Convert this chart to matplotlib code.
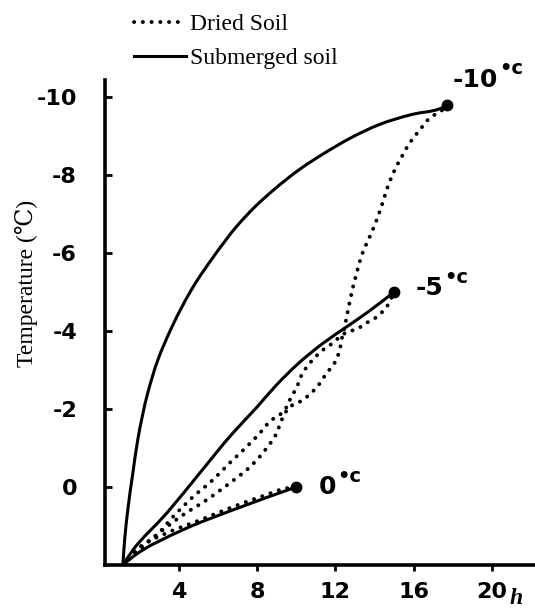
import matplotlib
matplotlib.use("Agg")
import numpy as np
import matplotlib.pyplot as plt
from matplotlib.lines import Line2D
from matplotlib.path import Path
from matplotlib.patches import PathPatch

# Hours after the start of cooling and soil temperature (deg C)
hours_sub_0 = [1.15, 1.66, 4.21, 6.76, 10.0]
temp_sub_0 = [2.0, 1.79, 1.10, 0.59, 0.0]

hours_dry_0 = [1.15, 2.01, 3.39, 5.08, 6.76, 8.14, 9.52, 10.0]
temp_dry_0 = [2.0, 1.54, 1.18, 0.85, 0.51, 0.26, 0.03, 0.0]

hours_sub_5 = [1.15, 1.66, 3.39, 5.08, 6.76, 8.0, 9.0, 10.18, 11.35, 12.7, 13.75, 15.0]
temp_sub_5 = [2.0, 1.62, 0.67, -0.36, -1.38, -2.05, -2.62, -3.2, -3.68, -4.15, -4.52, -5.0]

hours_dry_5 = [1.15, 1.86, 2.88, 3.70, 4.72, 5.74, 6.61, 7.47, 8.14, 8.75, 9.16,
               9.41, 9.67, 10.03, 10.33, 10.84, 11.35, 11.86, 12.22, 12.58, 13.09,
               13.6, 14.11, 14.62, 15.0]
temp_dry_5 = [2.0, 1.62, 1.23, 0.77, 0.26, -0.18, -0.62, -1.03, -1.38, -1.72, -1.85,
              -1.97, -2.23, -2.56, -2.92, -3.26, -3.51, -3.69, -3.85, -3.97, -4.05,
              -4.21, -4.36, -4.62, -5.0]

hours_sub_10 = [1.15, 1.25, 1.40, 1.66, 1.91, 2.42, 2.93, 3.65, 4.82, 5.84, 7.02,
                7.88, 8.8, 10.18, 11.56, 12.73, 14.26, 15.94, 17.32, 17.73]
temp_sub_10 = [2.0, 1.3, 0.59, -0.36, -1.21, -2.41, -3.25, -4.10, -5.2, -5.95, -6.72,
               -7.18, -7.6, -8.15, -8.6, -8.94, -9.3, -9.56, -9.7, -9.79]

hours_dry_10 = [1.15, 2.37, 4.21, 5.43, 6.61, 7.63, 8.29, 9.0, 9.26, 9.67, 10.33,
                11.05, 11.56, 11.96, 12.22, 12.32, 12.47, 12.58, 12.83, 13.09,
                13.39, 13.75, 14.11, 14.41, 14.67, 15.03, 15.38, 15.79, 16.30,
                16.81, 17.47, 17.73]
temp_dry_10 = [2.0, 1.44, 0.72, 0.33, -0.10, -0.51, -0.87, -1.38, -1.72, -2.05, -2.23,
               -2.56, -2.92, -3.18, -3.51, -3.77, -4.10, -4.36, -4.97, -5.49,
               -6.0, -6.41, -6.85, -7.28, -7.69, -8.13, -8.46, -8.82, -9.15,
               -9.46, -9.67, -9.79]

end_hours = [10.0, 15.0, 17.73]
end_temps = [0.0, -5.0, -9.79]
end_labels = ["0", "-5", "-10"]
label_pos_hours = [11.15, 16.1, 18.0]
label_pos_temps = [0.0, -5.1, -10.45]

x_ticks = [4, 8, 12, 16, 20]
y_ticks = [0, -2, -4, -6, -8, -10]

hand_font = ["DejaVu Sans"]
serif_font = ["Liberation Serif", "DejaVu Serif"]

# relative on-screen size of one hour and one degree, used to parametrise splines
X_UNIT, Y_UNIT = 1.0, 2.0


def smooth_path(xs, ys):
    """Chord-length cubic Hermite spline through the points, as Bezier segments."""
    p = np.column_stack([xs, ys]).astype(float)
    n = len(p)
    q = p * [X_UNIT, Y_UNIT]
    dt = np.maximum(np.hypot(*np.diff(q, axis=0).T), 1e-9)
    slopes = np.diff(p, axis=0) / dt[:, None]
    tang = np.empty_like(p)
    tang[0] = slopes[0]
    tang[-1] = slopes[-1]
    for i in range(1, n - 1):
        a, b = dt[i - 1], dt[i]
        tang[i] = (slopes[i - 1] * b + slopes[i] * a) / (a + b)
    verts = [p[0]]
    codes = [Path.MOVETO]
    for i in range(n - 1):
        c1 = p[i] + tang[i] * dt[i] / 3.0
        c2 = p[i + 1] - tang[i + 1] * dt[i] / 3.0
        verts += [c1, c2, p[i + 1]]
        codes += [Path.CURVE4] * 3
    return Path(verts, codes)


fig = plt.figure(figsize=(5.35, 6.10), dpi=100)
ax = fig.add_axes([0.196, 0.0738, 0.804, 0.795])

solid_kw = dict(color="black", lw=2.2)
dot_style = (0, (0.05, 2.2))
dot_lw = 2.8

for xs, ys in [(hours_sub_0, temp_sub_0), (hours_sub_5, temp_sub_5),
               (hours_sub_10, temp_sub_10)]:
    ax.add_patch(PathPatch(smooth_path(xs, ys), fill=False, edgecolor="black",
                           lw=2.2, capstyle="round", joinstyle="round"))
for xs, ys in [(hours_dry_0, temp_dry_0), (hours_dry_5, temp_dry_5),
               (hours_dry_10, temp_dry_10)]:
    ax.add_patch(PathPatch(smooth_path(xs, ys), fill=False, edgecolor="black",
                           lw=dot_lw, linestyle=dot_style, capstyle="round"))
ax.plot(end_hours, end_temps, "o", color="black", ms=7.5)

for h, t, lab in zip(label_pos_hours, label_pos_temps, end_labels):
    num = ax.text(h, t, lab, fontsize=18, fontweight="bold", family=hand_font,
                  ha="left", va="center", clip_on=False)
    ax.annotate("\u2022c", xy=(1.0, 0.95), xycoords=num, xytext=(1, 0),
                textcoords="offset points", ha="left", va="center",
                fontsize=14, fontweight="bold", family=hand_font)

ax.set_xlim(0.23, 22.2)
ax.set_ylim(2.0, -10.44)

for side in ("top", "right"):
    ax.spines[side].set_visible(False)
for side in ("left", "bottom"):
    ax.spines[side].set_linewidth(2.6)

ax.set_xticks(x_ticks)
ax.set_xticklabels([str(v) for v in x_ticks])
ax.set_yticks(y_ticks)
ax.set_yticklabels([str(v) for v in y_ticks])
ax.tick_params(axis="x", direction="out", length=4, width=2, pad=8)
ax.tick_params(axis="y", direction="in", length=5, width=2, pad=20)
for lab in ax.get_xticklabels() + ax.get_yticklabels():
    lab.set_family(hand_font)
    lab.set_fontweight("bold")
    lab.set_fontsize(16)

ax.text(21.25, -0.048, "h", transform=ax.get_xaxis_transform(), ha="center", va="top",
        fontsize=17, fontweight="bold", fontstyle="italic", family=serif_font)

fig.text(0.05, 0.535, "Temperature (\u2103)", rotation=90, ha="center", va="center",
         fontsize=17, family=serif_font)

handles = [Line2D([], [], color="black", lw=dot_lw, linestyle=dot_style,
                  dash_capstyle="round"),
           Line2D([], [], **solid_kw)]
fig.legend(handles, ["Dried Soil", "Submerged soil"], loc="upper left",
           bbox_to_anchor=(0.21, 1.012), frameon=False, handlelength=2.2,
           handletextpad=0.2, labelspacing=0.5,
           prop={"family": serif_font, "size": 17})

fig.savefig("out.png", dpi=100)
